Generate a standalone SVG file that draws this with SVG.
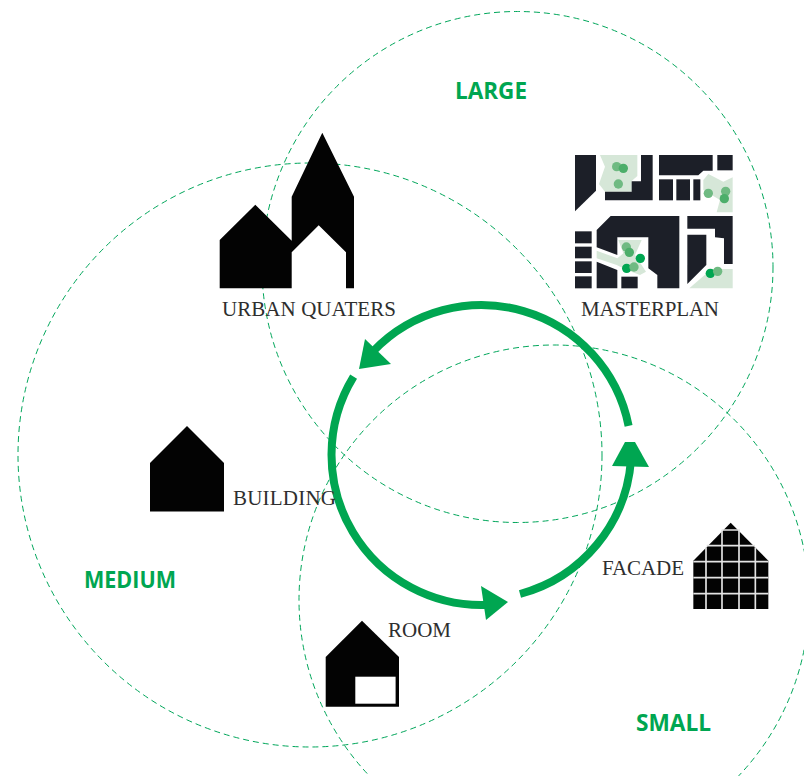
<svg xmlns="http://www.w3.org/2000/svg" width="804" height="776" viewBox="0 0 804 776">
<style>
.zone{fill:none;stroke:#00a65a;stroke-width:1;stroke-dasharray:6 4}
.ring{fill:none;stroke:#00a651;stroke-width:8}
.head{fill:#00a651}
.k{fill:#030303}
.lbl{font-family:"Liberation Serif",serif;font-size:21px;fill:#2e2e2e}
.big{font-family:"Open Sans","Noto Sans",sans-serif;font-size:23px;font-weight:700;fill:#00a651}
.d{fill:#1c1f28}
.l{fill:#d6e7d8}
.t1{fill:#6fba82}
.t2{fill:#00a651}
.grid{stroke:#e4e4e4;stroke-width:5;fill:none}
</style>
<rect width="804" height="776" fill="#fff"/>
<g id="zones">
<circle class="zone" cx="517.500" cy="267" r="255.500"/>
<circle class="zone" cx="310" cy="455" r="292"/>
<circle class="zone" cx="554" cy="600" r="255"/>
</g>
<g id="connectors">
<path class="ring" d="M628.600 425.900A150 150 0 0 0 373.200 351.200"/>
<polygon class="head" points="359,369 365,339 391,364"/>
<path class="ring" d="M353.600 376.700A150 150 0 0 0 490 604.800"/>
<polygon class="head" points="508,602 481,586 486,620"/>
<path class="ring" d="M520 594A150.500 150.500 0 0 0 631 460"/>
<polygon class="head" points="625,442 635,442 649,467 612,466"/>
</g>
<g id="urban-quaters">
<path class="k" d="M219.700 288.300V240L255.300 204.700L291.700 240.700V196.700L322.300 132.700L354 196.700V288.300H346V252.300L318.700 225.300L291.700 252.300V288.300Z"/>
<text class="lbl" x="222" y="315.500" textLength="174">URBAN QUATERS</text>
</g>
<g id="masterplan">
<g transform="translate(560 140) scale(.33333)">
<polygon class="l" points="120,45 232,45 232,108 215,123 215,155 135,155 117,132 135,80"/>
<polygon class="l" points="430,120 445,102 490,125 518,112 518,217 470,217 480,180 430,150"/>
<polygon class="l" points="110,332 172,355 190,340 175,300 245,300 225,345 258,395 240,405 200,390 170,375 110,355"/>
<polygon class="l" points="388,445 455,387 518,387 518,445"/>
<polygon class="d" points="45,45 108,45 108,152 45,214"/>
<polygon class="d" points="243,45 278,45 278,181 135,181 135,155 215,155 215,124 243,124"/>
<polygon class="d" points="297,45 458,45 458,92 430,92 415,106 297,106"/>
<rect class="d" x="472" y="45" width="46" height="46"/>
<rect class="d" x="297" y="118" width="42" height="63"/>
<rect class="d" x="349" y="118" width="41" height="63"/>
<rect class="d" x="400" y="118" width="21" height="63"/>
<polygon class="d" points="152,228 358,228 358,445 292,445 292,405 265,385 265,292 172,292 172,345 110,322 110,270"/>
<polygon class="d" points="110,365 172,390 172,445 110,445"/>
<rect class="d" x="184" y="410" width="49" height="35"/>
<rect class="d" x="45" y="274" width="50" height="36"/>
<rect class="d" x="45" y="320" width="50" height="35"/>
<rect class="d" x="45" y="364" width="50" height="35"/>
<rect class="d" x="45" y="409" width="50" height="36"/>
<polygon class="d" points="382,228 518,228 518,372 492,372 492,295 465,292 465,266 382,266"/>
<polygon class="d" points="382,284 439,284 439,375 382,432"/>
<circle class="t1" cx="170" cy="80" r="14"/>
<circle fill="#4cae6a" cx="190" cy="85" r="14"/>
<circle class="t1" cx="175" cy="132" r="14"/>
<circle class="t1" cx="445" cy="160" r="14"/>
<circle class="t1" cx="497" cy="154" r="14"/>
<circle fill="#4cae6a" cx="493" cy="176" r="14"/>
<circle class="t1" cx="199" cy="321" r="14"/>
<circle fill="#4cae6a" cx="208" cy="337" r="14"/>
<circle class="t2" cx="241" cy="355" r="14"/>
<circle class="t2" cx="200" cy="385" r="14"/>
<circle class="t1" cx="222" cy="381" r="14"/>
<circle class="t2" cx="451" cy="400" r="14"/>
<circle class="t1" cx="473" cy="394" r="14"/>
</g>
<text class="lbl" x="581" y="315.500" textLength="138">MASTERPLAN</text>
</g>
<g id="building">
<polygon class="k" points="150,511.500 150,463 187,426 224,463 224,511.500"/>
<text class="lbl" x="233" y="504.500" textLength="103">BUILDING</text>
</g>
<g id="facade">
<g transform="translate(590 510) scale(.33333)">
<polygon class="k" points="310,297 310,152 422,38 535,152 535,297"/>
<path class="grid" d="M348 112V297M396 60V297M447 60V297M496 112V297M395 60H450M350 107H495M310 155H535M310 203H535M310 251H535"/>
</g>
<text class="lbl" x="602" y="574.500" textLength="82">FACADE</text>
</g>
<g id="room">
<polygon class="k" points="325.700,706.700 325.700,657 362,620.700 399,657 399,706.700"/>
<rect x="355.300" y="676.700" width="40.300" height="27" fill="#fff"/>
<text class="lbl" x="388" y="636.500" textLength="63">ROOM</text>
</g>
<g id="scale-labels">
<text class="big" x="455" y="99" textLength="72" lengthAdjust="spacingAndGlyphs">LARGE</text>
<text class="big" x="84" y="588" textLength="92" lengthAdjust="spacingAndGlyphs">MEDIUM</text>
<text class="big" x="636" y="731" textLength="75" lengthAdjust="spacingAndGlyphs">SMALL</text>
</g>
</svg>
